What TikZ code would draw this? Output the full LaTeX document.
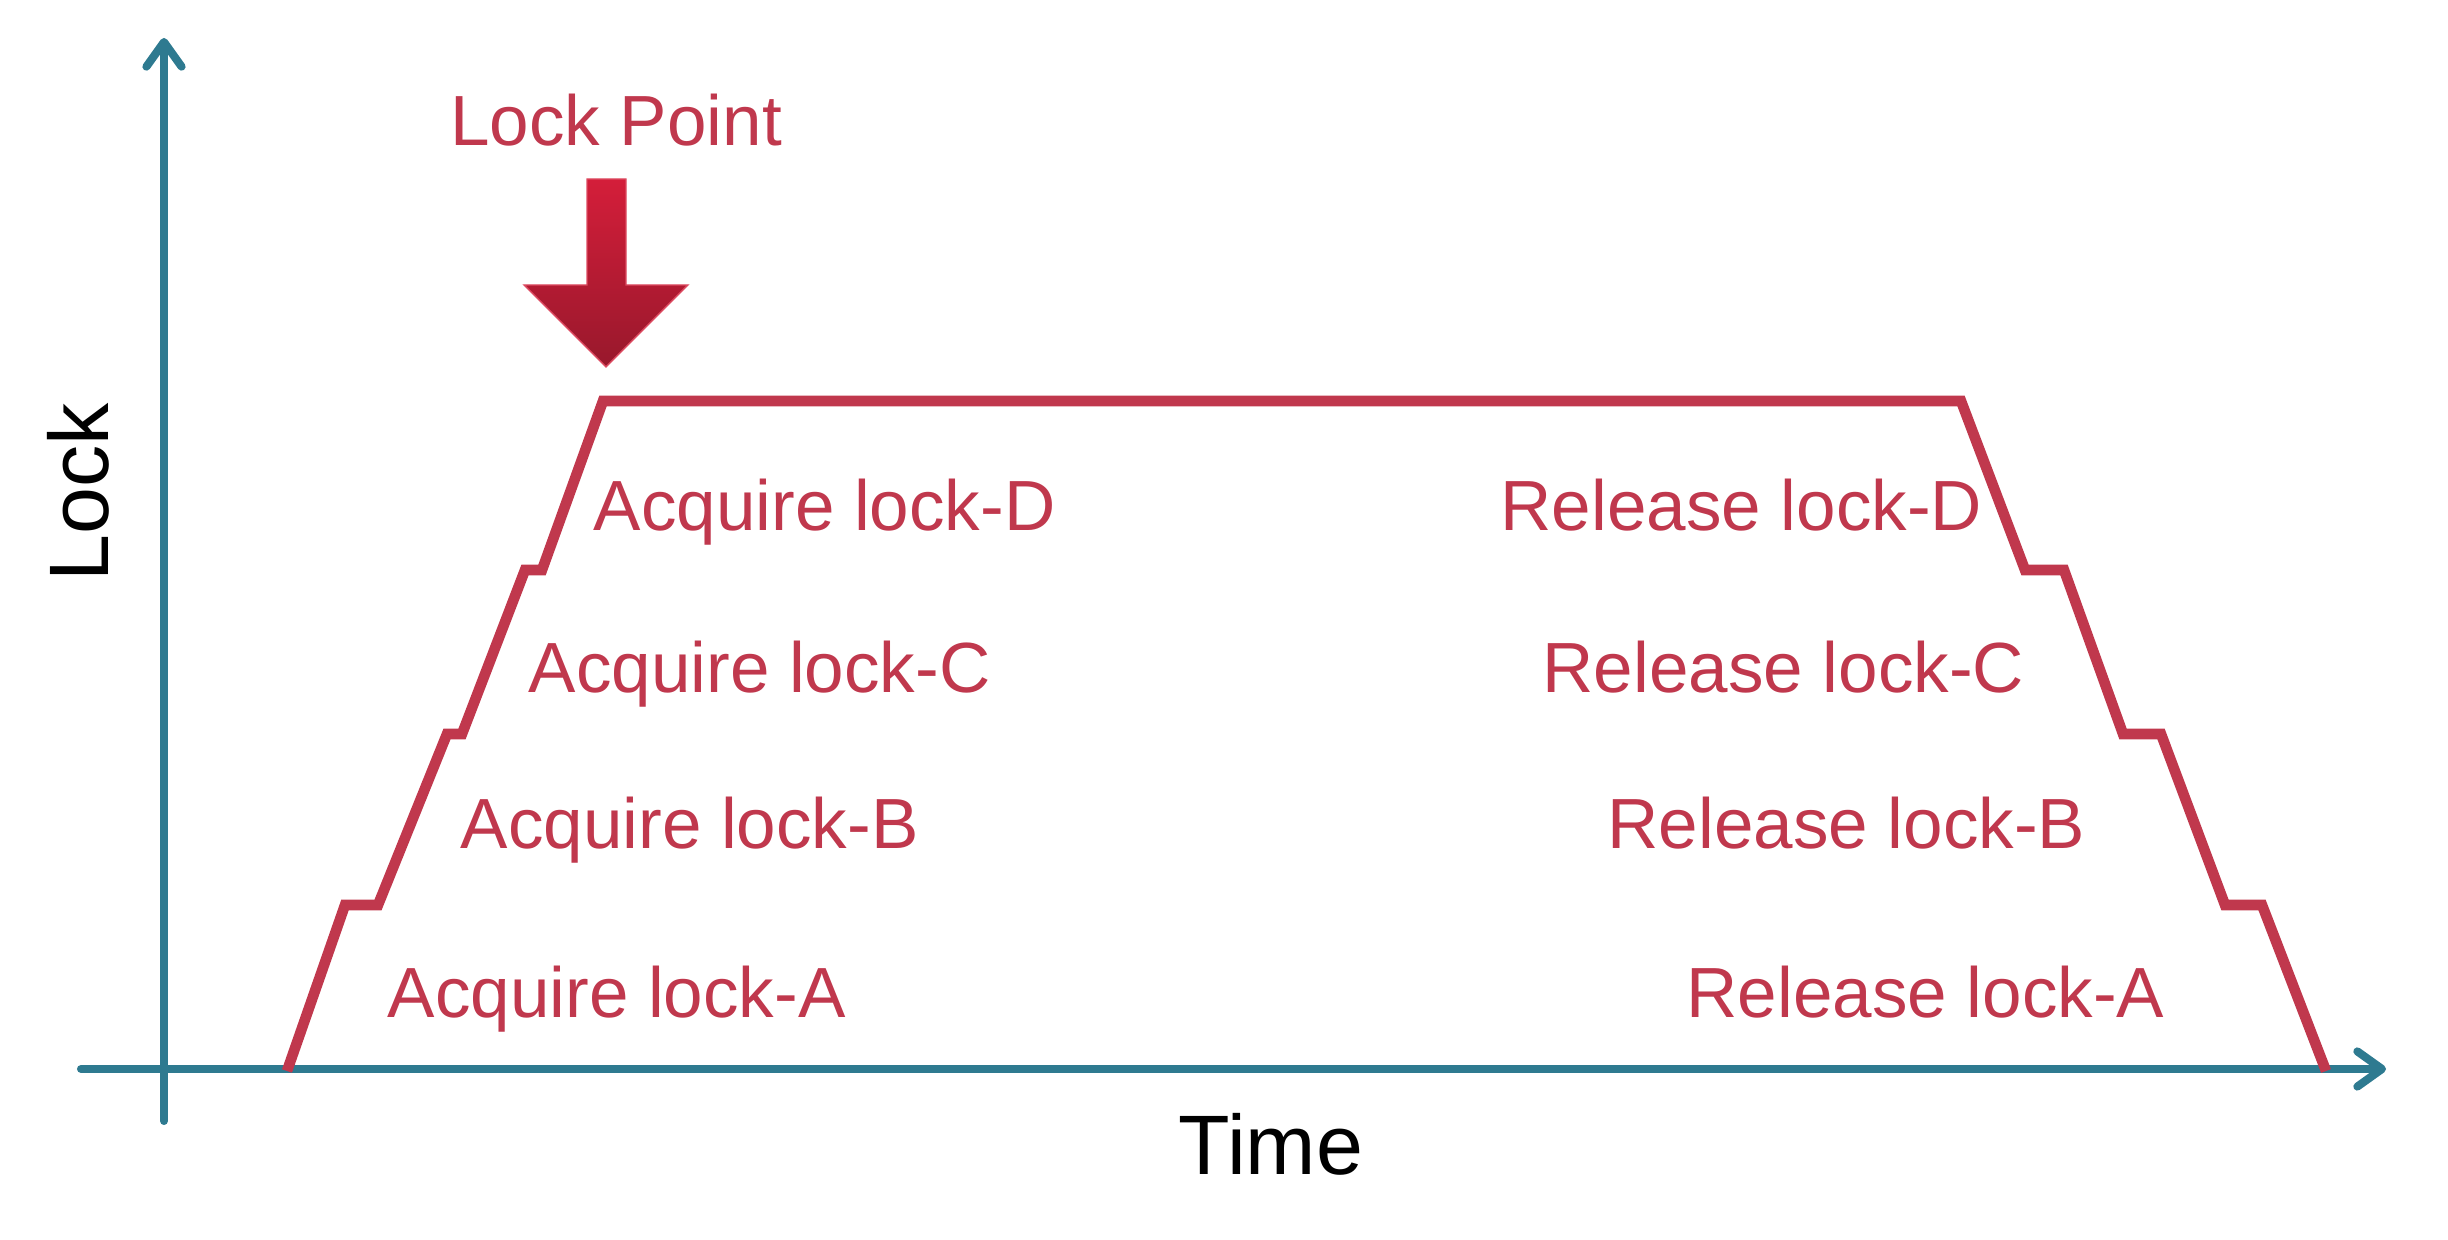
\documentclass[tikz,border=0pt]{standalone}
\usepackage{fontspec}
\setmainfont{Liberation Sans}
\usetikzlibrary{arrows.meta}
\definecolor{lockred}{RGB}{192,56,77}
\definecolor{axisblue}{RGB}{46,122,144}
\definecolor{arrowtop}{RGB}{212,30,58}
\definecolor{arrowbot}{RGB}{152,24,44}
\tikzset{
	axis/.style={draw=axisblue, line width=2.3pt, line cap=round,
		-{Straight Barb[length=7pt, width=10pt, round]}},
	lockline/.style={draw=lockred, line width=3pt, line join=miter},
	phase/.style={text=lockred, inner sep=0pt, font=\fontsize{20.2}{24}\selectfont},
	axislabel/.style={text=black, inner sep=0pt, font=\fontsize{24}{28}\selectfont}
}
\begin{document}
\begin{tikzpicture}[x=0.01cm, y=0.01cm]
	\useasboundingbox (0,0) rectangle (2448,1240);
	% Achsen
	\coordinate (ybot) at (164,119);
	\coordinate (ytop) at (164,1202);
	\coordinate (xleft) at (81,171);
	\coordinate (xright) at (2386,171);
	\draw[axis] (ybot) -- (ytop);
	\draw[axis] (xleft) -- (xright);
	\node[axislabel] (time) at (1271,96) {Time};
	\node[axislabel, rotate=90] (lock) at (78,748) {Lock};

	% Sperrkurve
	\draw[lockline] (287,169) -- (345,335) -- (378,335) -- (447,506)
		-- (462,506) -- (525,670) -- (542,670) -- (603,839)
		-- (1961,839) -- (2025,670) -- (2064,670) -- (2123,506)
		-- (2161,506) -- (2225,335) -- (2262,335) -- (2326,169);

	% Beschriftungen
	\node[phase, anchor=base west] (acqD) at (593,709) {Acquire lock-D};
	\node[phase, anchor=base west] (acqC) at (528,547) {Acquire lock-C};
	\node[phase, anchor=base west] (acqB) at (460,391) {Acquire lock-B};
	\node[phase, anchor=base west] (acqA) at (387,222) {Acquire lock-A};
	\node[phase, anchor=base east] (relD) at (1983,709) {Release lock-D};
	\node[phase, anchor=base east] (relC) at (2025,547) {Release lock-C};
	\node[phase, anchor=base east] (relB) at (2086,391) {Release lock-B};
	\node[phase, anchor=base east] (relA) at (2165,222) {Release lock-A};

	% Lock Point
	\node[phase] (lockpoint) at (616,1120) {Lock Point};
	\shade[top color=arrowtop, bottom color=arrowbot, draw=arrowtop!80!white,
		line width=0.4pt, line join=miter]
		(587,1061) -- (626,1061) -- (626,955) -- (688,955) -- (606,873)
		-- (524,955) -- (587,955) -- cycle;
\end{tikzpicture}
\end{document}
